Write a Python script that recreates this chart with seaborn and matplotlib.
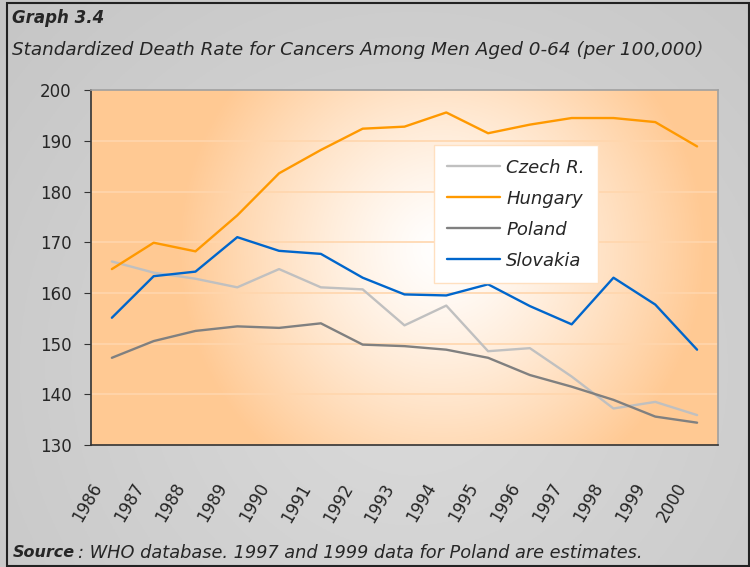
import numpy as np
import pandas as pd
import matplotlib
matplotlib.use("Agg")
import matplotlib.pyplot as plt
import matplotlib.transforms as mtransforms
import seaborn as sns

# data (per 100,000)
years = list(range(1986, 2001))
czech = [166.2, 164.0, 162.8, 161.1, 164.7, 161.1, 160.7, 153.6, 157.5, 148.5, 149.1, 143.5, 137.2, 138.5, 135.9]
hungary = [164.7, 169.9, 168.2, 175.3, 183.6, 188.2, 192.4, 192.8, 195.6, 191.5, 193.2, 194.5, 194.5, 193.7, 188.9]
poland = [147.2, 150.5, 152.5, 153.4, 153.1, 154.0, 149.8, 149.5, 148.8, 147.2, 143.8, 141.5, 138.9, 135.6, 134.4]
slovakia = [155.1, 163.3, 164.2, 171.0, 168.3, 167.7, 163.0, 159.7, 159.5, 161.7, 157.4, 153.8, 163.0, 157.7, 148.8]
countries = ["Czech R.", "Hungary", "Poland", "Slovakia"]
colors = ["#c0c0c0", "#ff9900", "#808080", "#0066cc"]
y_ticks = [130, 140, 150, 160, 170, 180, 190, 200]

df = pd.DataFrame({
    "year": years * 4,
    "rate": czech + hungary + poland + slovakia,
    "country": [c for c in countries for _ in years],
})

sns.set_style("white")
plt.rcParams["font.family"] = ["DejaVu Sans"]

fig = plt.figure(figsize=(7.5, 5.67), dpi=100)

# grey page background
bg = fig.add_axes([0, 0, 1, 1], zorder=-10)
gx, gy = np.meshgrid(np.linspace(0, 1, 300), np.linspace(0, 1, 300))
d = np.sqrt(((gx - 0.55) / 0.7) ** 2 + ((gy - 0.35) / 0.9) ** 2)
shade = 0.86 - 0.08 * np.clip(d, 0, 1)
bg.imshow(np.dstack([shade] * 3), extent=[0, 1, 0, 1], aspect="auto", origin="lower")
bg.set_axis_off()
fig.patches.append(plt.Rectangle((7 / 750, 0.0015), 1 - 8 / 750, 1 - 4 / 567,
                                 transform=fig.transFigure, fill=False,
                                 edgecolor="#222222", linewidth=1.5))

ax = fig.add_axes([0.1213, 0.2152, 0.8360, 0.6258])

# orange radial fill behind the plot
px, py = np.meshgrid(np.linspace(0, 1, 300), np.linspace(0, 1, 300))
r = np.sqrt(((px - 0.56) / 0.42) ** 2 + ((py - 0.55) / 0.75) ** 2)
t = np.clip(r, 0, 1) ** 1.3
orange = np.array([1.0, 0.79, 0.58])
img = (1 - t)[..., None] * np.array([1.0, 1.0, 1.0]) + t[..., None] * orange
ax.imshow(img, extent=[0, 1, 0, 1], transform=ax.transAxes, aspect="auto",
          origin="lower", zorder=0)

for v in y_ticks[1:-1]:
    ax.axhline(v, color="#ffd6ad", linewidth=1.2, zorder=1)

sns.lineplot(data=df, x="year", y="rate", hue="country", palette=colors,
             linewidth=1.7, ax=ax, zorder=3)

ax.set_xlim(1985.5, 2000.5)
ax.set_ylim(130, 200)
ax.set_yticks(y_ticks)
ax.set_yticklabels([str(v) for v in y_ticks], fontsize=12)

# category-style x axis: tick marks between years, rotated year labels
ax.set_xticks(np.arange(1985.5, 2001, 1))
ax.set_xticklabels([])
ax.tick_params(axis="x", length=5, color="#333333", direction="out")
lab_tr = mtransforms.blended_transform_factory(ax.transData, ax.transAxes) + \
    mtransforms.ScaledTranslation(-22 / 100, -35 / 100, fig.dpi_scale_trans)
for yr in years:
    ax.text(yr, 0, str(yr), transform=lab_tr, rotation=60, fontsize=12,
            ha="right", va="top", rotation_mode="anchor", clip_on=False)

ax.tick_params(axis="y", length=5, color="#333333", direction="out", pad=9,
               left=True)
ax.set_xlabel("")
ax.set_ylabel("")

for side in ["left", "bottom"]:
    ax.spines[side].set_color("#333333")
    ax.spines[side].set_linewidth(1.2)
for side in ["right", "top"]:
    ax.spines[side].set_color("#a0a0a0")
    ax.spines[side].set_linewidth(1.2)

leg = ax.legend(loc="upper left", bbox_to_anchor=(0.547, 0.845), frameon=True,
                prop={"style": "italic", "size": 13}, handlelength=2.9,
                handletextpad=0.35, labelspacing=0.72, borderpad=0.75,
                borderaxespad=0, fancybox=False)
leg.get_frame().set_facecolor("white")
leg.get_frame().set_edgecolor("#ffe0c0")
leg.get_frame().set_alpha(1)
leg.set_zorder(5)
for line in leg.get_lines():
    line.set_linewidth(1.7)

fig.text(0.016, 0.968, "Graph 3.4", fontsize=12, fontweight="bold",
         style="italic", va="center")
fig.text(0.016, 0.911, "Standardized Death Rate for Cancers Among Men Aged 0-64 (per 100,000)",
         fontsize=13.2, style="italic", va="center")
src = fig.text(0.017, 0.025, "Source", fontsize=11.5, fontweight="bold",
               style="italic", va="center")
fig.canvas.draw()
bb = src.get_window_extent()
fig.text(bb.x1 / 750 + 0.004, 0.025,
         ": WHO database. 1997 and 1999 data for Poland are estimates.",
         fontsize=12.8, style="italic", va="center")

fig.savefig("out.png", dpi=100)
